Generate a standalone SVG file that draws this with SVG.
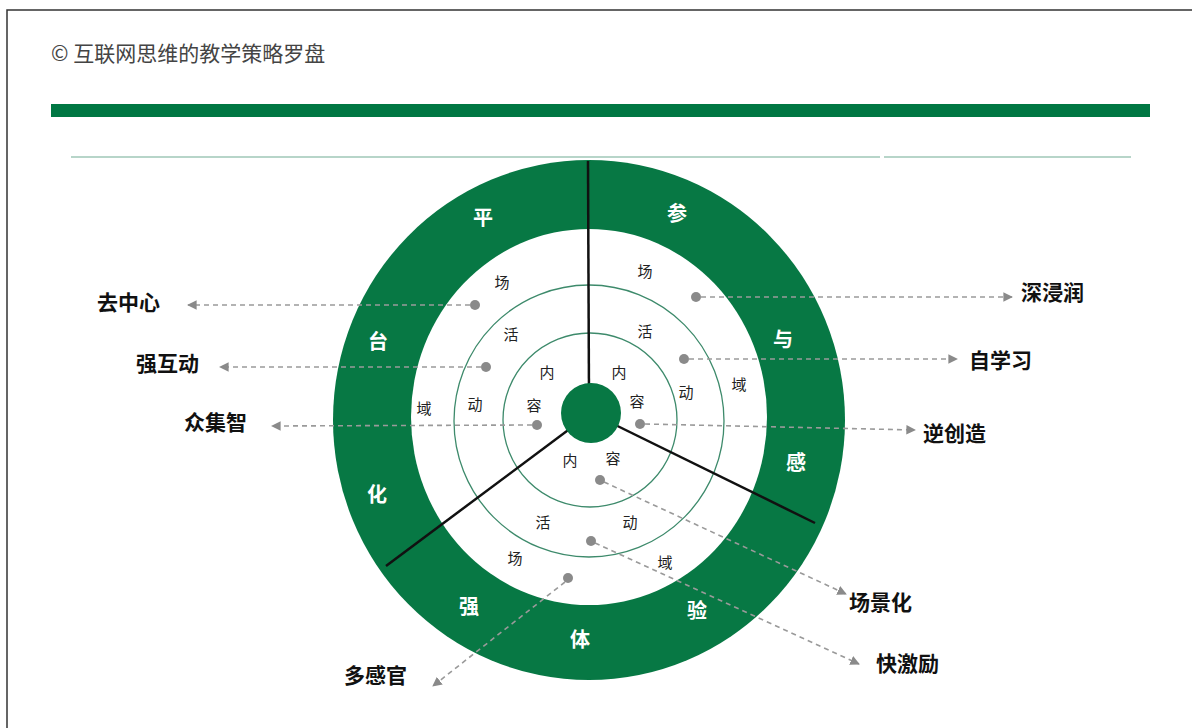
<svg xmlns="http://www.w3.org/2000/svg" width="1192" height="728" viewBox="0 0 1192 728">
<defs>
<style>
.cjk{font-family:"Noto Sans CJK SC","Noto Sans",sans-serif;}
.ring{font-family:"Noto Sans CJK SC",sans-serif;font-size:20px;font-weight:bold;fill:#ffffff;text-anchor:middle;dominant-baseline:central;}
.inner{font-family:"Noto Sans CJK SC",sans-serif;font-size:15px;fill:#222;text-anchor:middle;dominant-baseline:central;}
.label{font-family:"Noto Sans CJK SC",sans-serif;font-size:21px;font-weight:bold;fill:#111;dominant-baseline:central;}
.dash{stroke:#9a9a9a;stroke-width:1.6;stroke-dasharray:5 4;fill:none;marker-end:url(#arr);}
.dot{fill:#8a8a8a;}
.div{stroke:#111;stroke-width:2.5;}
.circ{fill:none;stroke:#3d8a6b;stroke-width:1.3;}
</style>
<marker id="arr" viewBox="0 0 10 10" refX="9" refY="5" markerWidth="6" markerHeight="6" orient="auto" markerUnits="strokeWidth">
<path d="M0,0 L10,5 L0,10 z" fill="#8a8a8a"/>
</marker>
</defs>
<rect x="0" y="0" width="1192" height="728" fill="#ffffff"/>
<rect x="7" y="10" width="1200" height="740" fill="none" stroke="#333" stroke-width="1.5"/>
<text class="cjk" x="51" y="61" font-size="21" fill="#444">© 互联网思维的教学策略罗盘</text>
<rect x="51" y="104" width="1099" height="13" fill="#007743"/>
<line x1="71" y1="157" x2="880" y2="157" stroke="#9fc7b7" stroke-width="1.3"/>
<line x1="884" y1="157" x2="1131" y2="157" stroke="#9fc7b7" stroke-width="1.3"/>

<g id="compass">
<ellipse cx="589" cy="420" rx="256" ry="260" fill="#077844"/>
<ellipse cx="589" cy="417" rx="178" ry="188" fill="#ffffff"/>
<ellipse cx="589" cy="421" rx="135" ry="136" class="circ"/>
<ellipse cx="590" cy="420" rx="87" ry="87" class="circ"/>
<line class="div" x1="588" y1="161" x2="589" y2="400"/>
<line class="div" x1="591" y1="413" x2="386" y2="566"/>
<line class="div" x1="591" y1="413" x2="815" y2="523"/>
<circle cx="591" cy="413" r="30" fill="#077844"/>
</g>

<g id="ring-text">
<text class="ring" x="483" y="216">平</text>
<text class="ring" x="677" y="212">参</text>
<text class="ring" x="378" y="340">台</text>
<text class="ring" x="783" y="338">与</text>
<text class="ring" x="377" y="493">化</text>
<text class="ring" x="796" y="461">感</text>
<text class="ring" x="469" y="605">强</text>
<text class="ring" x="580" y="638">体</text>
<text class="ring" x="697" y="609">验</text>
</g>

<g id="sector-left">
<text class="inner" x="502" y="281">场</text>
<text class="inner" x="511" y="333">活</text>
<text class="inner" x="547" y="371">内</text>
<text class="inner" x="424" y="407">域</text>
<text class="inner" x="475" y="403">动</text>
<text class="inner" x="534" y="404">容</text>
</g>
<g id="sector-right">
<text class="inner" x="645" y="270">场</text>
<text class="inner" x="645" y="330">活</text>
<text class="inner" x="619" y="371">内</text>
<text class="inner" x="739" y="383">域</text>
<text class="inner" x="686" y="391">动</text>
<text class="inner" x="637" y="400">容</text>
</g>
<g id="sector-bottom">
<text class="inner" x="570" y="459">内</text>
<text class="inner" x="613" y="457">容</text>
<text class="inner" x="543" y="521">活</text>
<text class="inner" x="630" y="521">动</text>
<text class="inner" x="515" y="557">场</text>
<text class="inner" x="665" y="561">域</text>
</g>

<g id="connectors">
<line class="dash" x1="470" y1="305" x2="188" y2="305"/>
<line class="dash" x1="481" y1="367" x2="220" y2="367"/>
<line class="dash" x1="532" y1="425" x2="272" y2="426"/>
<line class="dash" x1="701" y1="297" x2="1012" y2="297"/>
<line class="dash" x1="689" y1="359" x2="957" y2="359"/>
<line class="dash" x1="645" y1="424" x2="915" y2="430"/>
<line class="dash" x1="604" y1="482" x2="846" y2="594"/>
<line class="dash" x1="595" y1="543" x2="859" y2="664"/>
<line class="dash" x1="565" y1="582" x2="433" y2="686"/>
</g>

<g id="dots">
<circle class="dot" cx="475" cy="305" r="5"/>
<circle class="dot" cx="696" cy="297" r="5"/>
<circle class="dot" cx="486" cy="367" r="5"/>
<circle class="dot" cx="684" cy="359" r="5"/>
<circle class="dot" cx="537" cy="425" r="5"/>
<circle class="dot" cx="640" cy="424" r="5"/>
<circle class="dot" cx="600" cy="480" r="5"/>
<circle class="dot" cx="591" cy="541" r="5"/>
<circle class="dot" cx="568" cy="578" r="5"/>
</g>

<g id="labels">
<text class="label" x="97" y="301">去中心</text>
<text class="label" x="136" y="362">强互动</text>
<text class="label" x="184" y="421">众集智</text>
<text class="label" x="1021" y="291">深浸润</text>
<text class="label" x="969" y="359">自学习</text>
<text class="label" x="923" y="432">逆创造</text>
<text class="label" x="849" y="601">场景化</text>
<text class="label" x="876" y="662">快激励</text>
<text class="label" x="344" y="674">多感官</text>
</g>
</svg>
